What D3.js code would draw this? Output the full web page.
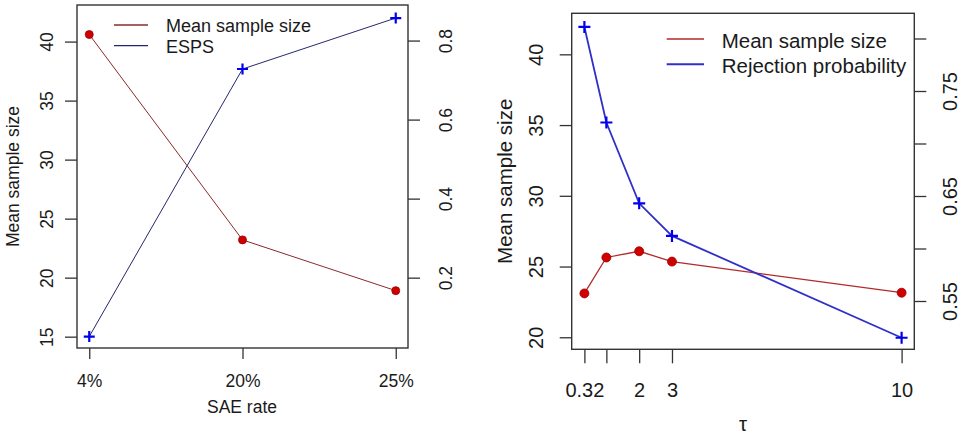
<!DOCTYPE html>
<html>
<head>
<meta charset="utf-8">
<script src="https://cdn.jsdelivr.net/npm/d3@7"></script>
<style>
  html, body { margin: 0; padding: 0; background: #fff; }
  svg { display: block; font-family: "Liberation Sans", Arial, sans-serif; }
</style>
</head>
<body>
<svg id="chart" width="970" height="434"></svg>
<script>
// ---------- Data ----------
const saeCategories = ["4%", "20%", "25%"];
const saeMeanSize = [40.6, 23.2, 18.9];
const saeESPS = [0.051, 0.728, 0.857];
const leftY1Ticks = [15, 20, 25, 30, 35, 40];
const leftY2Ticks = [0.2, 0.4, 0.6, 0.8];
const leftLegend = ["Mean sample size", "ESPS"];

const tauValues = [0.33, 1, 2, 3, 10];
const tauTickLabels = ["0.32", "", "2", "3", "10"];
const tauMeanSize = [23.1, 25.64, 26.08, 25.35, 23.15];
const tauRejProb = [0.811, 0.72, 0.643, 0.612, 0.515];
const rightY1Ticks = [20, 25, 30, 35, 40];
const rightY2Ticks = [0.55, 0.6, 0.65, 0.7, 0.75, 0.8];
const rightY2Labels = ["0.55", "", "0.65", "", "0.75", ""];
const rightLegend = ["Mean sample size", "Rejection probability"];

const FONT = '"Liberation Sans", Arial, sans-serif';
const svg = d3.select("#chart");
const axisColor = "#333";

function styleAxis(g) {
  g.attr("font-family", FONT);
  g.select(".domain").remove();
  g.selectAll(".tick line").attr("stroke", axisColor).attr("stroke-width", 1.3);
  g.selectAll(".tick text").attr("fill", "#1a1a1a").attr("font-family", FONT);
}

function plusPath(x, y, s) {
  return `M${x - s},${y}H${x + s}M${x},${y - s}V${y + s}`;
}

function drawPanel(cfg) {
  const g = svg.append("g").attr("font-family", FONT);
  const { box, x, y1, y2, xVals, s1, s2, fs } = cfg;

  // box
  g.append("rect")
    .attr("x", box.l).attr("y", box.t)
    .attr("width", box.r - box.l).attr("height", box.b - box.t)
    .attr("fill", "none").attr("stroke", axisColor).attr("stroke-width", 1.4);

  // left axis
  const ga = g.append("g").attr("transform", `translate(${box.l},0)`)
    .call(d3.axisLeft(y1).tickValues(cfg.y1Ticks).tickSize(12).tickFormat(d3.format("d")));
  styleAxis(ga);
  ga.selectAll(".tick text")
    .attr("x", null).attr("dy", null).attr("y", null)
    .attr("text-anchor", "middle")
    .attr("font-size", fs.tick)
    .attr("transform", `translate(${cfg.y1LabelOff},0) rotate(-90)`);

  // right axis
  const gr = g.append("g").attr("transform", `translate(${box.r},0)`)
    .call(d3.axisRight(y2).tickValues(cfg.y2Ticks).tickSize(12)
      .tickFormat((d, i) => cfg.y2Labels[i]));
  styleAxis(gr);
  gr.selectAll(".tick text")
    .attr("x", null).attr("dy", null).attr("y", null)
    .attr("text-anchor", "middle")
    .attr("font-size", fs.tick)
    .attr("transform", `translate(${cfg.y2LabelOff},0) rotate(-90)`);

  // bottom axis
  const gb = g.append("g").attr("transform", `translate(0,${box.b})`)
    .call(d3.axisBottom(x).tickValues(cfg.xTicks).tickSize(cfg.xTickLen)
      .tickFormat((d, i) => cfg.xLabels[i]));
  styleAxis(gb);
  gb.selectAll(".tick text")
    .attr("dy", null).attr("y", cfg.xLabelOff)
    .attr("font-size", fs.tick);

  // axis titles
  g.append("text")
    .attr("transform", `translate(${cfg.yTitleX},${(box.t + box.b) / 2 + cfg.yTitleDy}) rotate(-90)`)
    .attr("text-anchor", "middle").attr("font-size", fs.title).attr("fill", "#1a1a1a")
    .text("Mean sample size");
  g.append("text")
    .attr("x", cfg.xTitlePos[0]).attr("y", cfg.xTitlePos[1])
    .attr("text-anchor", "middle").attr("font-size", fs.title).attr("fill", "#1a1a1a")
    .text(cfg.xTitle);

  // series 1: mean sample size
  const line1 = d3.line().x((d, i) => x(xVals[i])).y(d => y1(d));
  g.append("path").datum(s1).attr("d", line1)
    .attr("fill", "none").attr("stroke", cfg.c1line).attr("stroke-width", cfg.w1);
  g.selectAll(".pt").data(s1).enter().append("circle")
    .attr("cx", (d, i) => x(xVals[i])).attr("cy", d => y1(d)).attr("r", cfg.r)
    .attr("fill", "#d00000").attr("stroke", "#900").attr("stroke-width", 0.8);

  // series 2
  const line2 = d3.line().x((d, i) => x(xVals[i])).y(d => y2(d));
  g.append("path").datum(s2).attr("d", line2)
    .attr("fill", "none").attr("stroke", cfg.c2line).attr("stroke-width", cfg.w2);
  g.selectAll(".pl").data(s2).enter().append("path")
    .attr("d", (d, i) => plusPath(x(xVals[i]), y2(d), cfg.plus))
    .attr("stroke", "#0000ee").attr("stroke-width", 2.2).attr("fill", "none");

  // legend
  const L = cfg.legend;
  [[cfg.c1line, cfg.w1], [cfg.c2line, cfg.w2]].forEach((c, i) => {
    g.append("line")
      .attr("x1", L.x1).attr("x2", L.x2).attr("y1", L.ly[i]).attr("y2", L.ly[i])
      .attr("stroke", c[0]).attr("stroke-width", c[1] + 0.3);
    g.append("text")
      .attr("x", L.tx).attr("y", L.ty[i]).attr("font-size", fs.legend).attr("fill", "#1a1a1a")
      .text(cfg.legendLabels[i]);
  });
}

// ---------- Left panel ----------
const lBox = { l: 77, r: 408, t: 5, b: 348 };
drawPanel({
  box: lBox,
  x: d3.scaleLinear().domain([0.92, 3.08]).range([lBox.l, lBox.r]),
  y1: d3.scaleLinear().domain([14.04, 43.1]).range([lBox.b, lBox.t]),
  y2: d3.scaleLinear().domain([0.022, 0.890]).range([lBox.b, lBox.t]),
  xVals: saeCategories.map((d, i) => i + 1),
  xTicks: saeCategories.map((d, i) => i + 1),
  xLabels: saeCategories,
  xTickLen: 11,
  xLabelOff: 39,
  y1Ticks: leftY1Ticks,
  y2Ticks: leftY2Ticks,
  y2Labels: leftY2Ticks.map(d => String(d)),
  y1LabelOff: -24,
  y2LabelOff: 44,
  yTitleX: 19,
  yTitleDy: 0,
  xTitle: "SAE rate",
  xTitlePos: [242, 413],
  s1: saeMeanSize,
  s2: saeESPS,
  c1line: "#8b2a2a", w1: 1,
  c2line: "#26266e", w2: 1,
  r: 4, plus: 5.5,
  fs: { tick: 17.5, title: 17.5, legend: 18 },
  legend: { x1: 114, x2: 148, ly: [25, 45.7], tx: 166, ty: [32.3, 53.3] },
  legendLabels: leftLegend
});

// ---------- Right panel ----------
const rBox = { l: 571.7, r: 914.3, t: 13.3, b: 349.3 };
drawPanel({
  box: rBox,
  x: d3.scaleLinear().domain([-0.057, 10.387]).range([rBox.l, rBox.r]),
  y1: d3.scaleLinear().domain([19.15, 42.9]).range([rBox.b, rBox.t]),
  y2: d3.scaleLinear().domain([0.504, 0.824]).range([rBox.b, rBox.t]),
  xVals: tauValues,
  xTicks: tauValues,
  xLabels: tauTickLabels,
  xTickLen: 14,
  xLabelOff: 47.7,
  y1Ticks: rightY1Ticks,
  y2Ticks: rightY2Ticks,
  y2Labels: rightY2Labels,
  y1LabelOff: -28.7,
  y2LabelOff: 42.7,
  yTitleX: 511.5,
  yTitleDy: 0,
  xTitle: "τ",
  xTitlePos: [743, 431],
  s1: tauMeanSize,
  s2: tauRejProb,
  c1line: "#b22a2a", w1: 1.3,
  c2line: "#3030c8", w2: 1.8,
  r: 4.5, plus: 6,
  fs: { tick: 20, title: 20.5, legend: 20.5 },
  legend: { x1: 666.7, x2: 704, ly: [39, 64.3], tx: 721.7, ty: [47.7, 73.3] },
  legendLabels: rightLegend
});
</script>
</body>
</html>
